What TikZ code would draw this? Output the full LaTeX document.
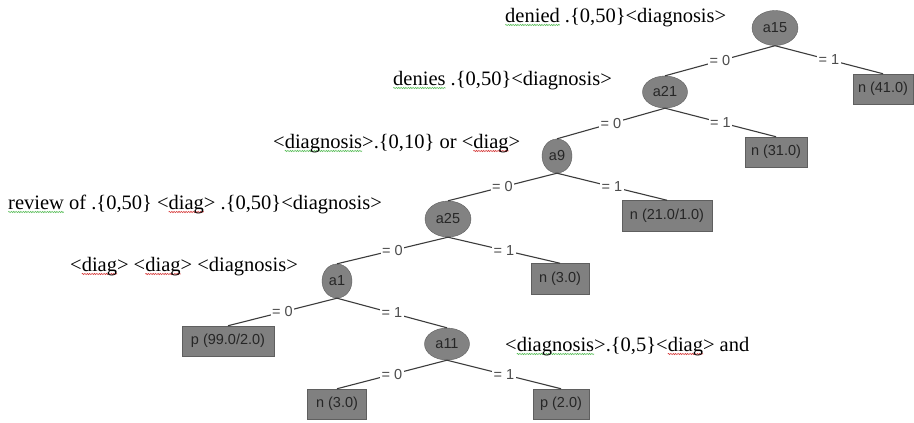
\documentclass[tikz,border=0pt]{standalone}
\usepackage{fontspec}
\setmainfont{Liberation Serif}
\newfontfamily\wekafont{Liberation Sans}
\usetikzlibrary{shapes.geometric,decorations.pathmorphing}
\definecolor{nodegray}{RGB}{130,130,130}
\definecolor{boxgray}{RGB}{128,128,128}
\definecolor{edgegray}{RGB}{60,60,60}
\definecolor{rimgray}{RGB}{95,95,95}
\definecolor{spellgreen}{RGB}{90,190,90}
\definecolor{spellred}{RGB}{215,60,60}
\newlength\wvlen
\newcommand\wv[2]{\settowidth\wvlen{#2}\rlap{\tikz[overlay]\draw[#1,line width=0.6pt,decorate,decoration={snake,amplitude=0.6pt,segment length=2.4pt}] (0pt,-3pt)--(\wvlen,-3pt);}#2}
\tikzset{
  test/.style={ellipse,fill=nodegray,draw=rimgray,line width=0.4pt,inner sep=0pt,minimum height=#1,font=\wekafont\fontsize{14.5}{16}\selectfont,text=black!85},
  leaf/.style={rectangle,fill=boxgray,draw=rimgray,line width=0.5pt,inner sep=0pt,font=\wekafont\fontsize{14.5}{16}\selectfont,text=black!85},
  edge/.style={draw=edgegray,line width=1.1pt},
  lbl/.style={fill=white,inner sep=1.5pt,font=\wekafont\fontsize{14.5}{16}\selectfont,text=black!70},
  rule/.style={anchor=base west,inner sep=0pt,font=\fontsize{20.5}{24}\selectfont}
}
\begin{document}
\begin{tikzpicture}[x=1pt,y=-1pt]
\useasboundingbox[fill=white] (0,0) rectangle (914,423);
% decision nodes
\node[test=35pt,minimum width=46pt] (a15) at (775,28) {a15};
\node[test=32pt,minimum width=45pt] (a21) at (665,92) {a21};
\node[test=34pt,minimum width=30pt] (a9) at (557,156) {a9};
\node[test=36pt,minimum width=46pt] (a25) at (448,219) {a25};
\node[test=34pt,minimum width=30pt] (a1) at (337,281) {a1};
\node[test=32pt,minimum width=45pt] (a11) at (447,344) {a11};
% leaves
\node[leaf,minimum width=60pt,minimum height=30pt] (l41) at (883,89) {n (41.0)};
\node[leaf,minimum width=62pt,minimum height=30pt] (l31) at (776,152) {n (31.0)};
\node[leaf,minimum width=90pt,minimum height=31pt] (l21) at (667,216) {n (21.0/1.0)};
\node[leaf,minimum width=58pt,minimum height=31pt] (l3a) at (560,279) {n (3.0)};
\node[leaf,minimum width=92pt,minimum height=30pt] (l99) at (228,341) {p (99.0/2.0)};
\node[leaf,minimum width=59pt,minimum height=30pt] (l3b) at (337,404) {n (3.0)};
\node[leaf,minimum width=56pt,minimum height=30pt] (l2) at (561,404) {p (2.0)};
% edges
\draw[edge] (a15.south) -- node[lbl] (e1) {= 0} (a21.north);
\draw[edge] (a15.south) -- node[lbl] (e2) {= 1} (l41.north);
\draw[edge] (a21.south) -- node[lbl] (e3) {= 0} (a9.north);
\draw[edge] (a21.south) -- node[lbl] (e4) {= 1} (l31.north);
\draw[edge] (a9.south) -- node[lbl] (e5) {= 0} (a25.north);
\draw[edge] (a9.south) -- node[lbl] (e6) {= 1} (l21.north);
\draw[edge] (a25.south) -- node[lbl] (e7) {= 0} (a1.north);
\draw[edge] (a25.south) -- node[lbl] (e8) {= 1} (l3a.north);
\draw[edge] (a1.south) -- node[lbl] (e9) {= 0} (l99.north);
\draw[edge] (a1.south) -- node[lbl] (e10) {= 1} (a11.north);
\draw[edge] (a11.south) -- node[lbl] (e11) {= 0} (l3b.north);
\draw[edge] (a11.south) -- node[lbl] (e12) {= 1} (l2.north);
% rule texts
\node[rule] (t1) at (505,22) {\wv{spellgreen}{denied} .\{0,50\}<diagnosis>};
\node[rule] (t2) at (393,85) {\wv{spellgreen}{denies} .\{0,50\}<diagnosis>};
\node[rule] (t3) at (273,148) {<\wv{spellgreen}{diagnosis}>.\{0,10\} or <\wv{spellred}{diag}>};
\node[rule] (t4) at (8,209) {\wv{spellgreen}{review} of .\{0,50\} <\wv{spellred}{diag}> .\{0,50\}<diagnosis>};
\node[rule] (t5) at (70,271) {<\wv{spellred}{diag}> <\wv{spellred}{diag}> <diagnosis>};
\node[rule] (t6) at (505,351) {<\wv{spellgreen}{diagnosis}>.\{0,5\}<\wv{spellred}{diag}> and};
\end{tikzpicture}
\end{document}
